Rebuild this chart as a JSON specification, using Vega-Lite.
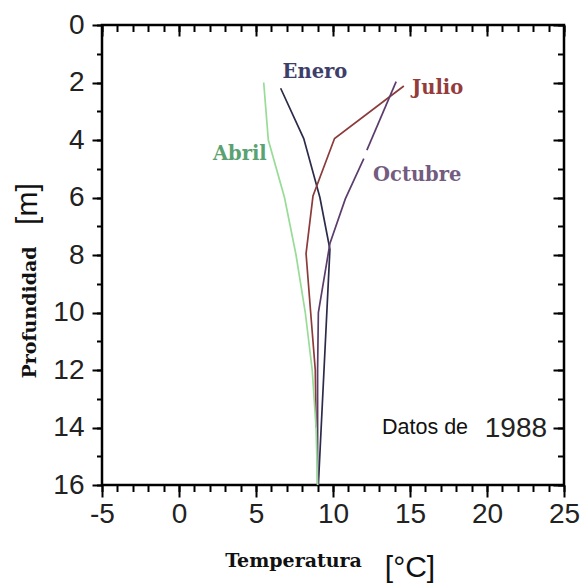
{
  "$schema": "https://vega.github.io/schema/vega-lite/v6.json",
  "width": 462,
  "height": 460,
  "autosize": "none",
  "padding": {"left": 102, "top": 25, "right": 18, "bottom": 99},
  "background": "white",
  "config": {
    "view": {"stroke": "#000", "strokeWidth": 2.5},
    "axis": {"grid": false, "domain": false, "tickColor": "#000", "tickWidth": 2, "labelFlush": false, "labelOverlap": false}
  },
  "resolve": {"axis": {"x": "independent", "y": "independent"}, "scale": {"color": "independent"}},
  "layer": [
    {
      "data": {"values": [
        {"month": "Enero", "seg": 1, "temp": 6.6, "depth": 2.2},
        {"month": "Enero", "seg": 1, "temp": 8.1, "depth": 3.95},
        {"month": "Enero", "seg": 1, "temp": 9.15, "depth": 6},
        {"month": "Enero", "seg": 1, "temp": 9.8, "depth": 7.8},
        {"month": "Enero", "seg": 1, "temp": 9.05, "depth": 16},
        {"month": "Julio", "seg": 1, "temp": 14.6, "depth": 2.12},
        {"month": "Julio", "seg": 1, "temp": 10.1, "depth": 3.95},
        {"month": "Julio", "seg": 1, "temp": 8.7, "depth": 5.95},
        {"month": "Julio", "seg": 1, "temp": 8.25, "depth": 7.95},
        {"month": "Julio", "seg": 1, "temp": 8.55, "depth": 10},
        {"month": "Julio", "seg": 1, "temp": 8.85, "depth": 12},
        {"month": "Julio", "seg": 1, "temp": 8.9, "depth": 14},
        {"month": "Octubre", "seg": 1, "temp": 14.1, "depth": 1.97},
        {"month": "Octubre", "seg": 1, "temp": 12.2, "depth": 4.35},
        {"month": "Octubre", "seg": 2, "temp": 12.0, "depth": 4.65},
        {"month": "Octubre", "seg": 2, "temp": 10.8, "depth": 6.05},
        {"month": "Octubre", "seg": 2, "temp": 9.8, "depth": 7.6},
        {"month": "Octubre", "seg": 2, "temp": 9.05, "depth": 10},
        {"month": "Octubre", "seg": 2, "temp": 9.0, "depth": 12},
        {"month": "Octubre", "seg": 2, "temp": 9.0, "depth": 16},
        {"month": "Abril", "seg": 1, "temp": 5.5, "depth": 2},
        {"month": "Abril", "seg": 1, "temp": 5.8, "depth": 4},
        {"month": "Abril", "seg": 1, "temp": 6.85, "depth": 6},
        {"month": "Abril", "seg": 1, "temp": 7.6, "depth": 8},
        {"month": "Abril", "seg": 1, "temp": 8.2, "depth": 10},
        {"month": "Abril", "seg": 1, "temp": 8.65, "depth": 12},
        {"month": "Abril", "seg": 1, "temp": 8.9, "depth": 14},
        {"month": "Abril", "seg": 1, "temp": 9.0, "depth": 16}
      ]},
      "mark": {"type": "line", "strokeWidth": 1.7, "clip": true},
      "encoding": {
        "x": {"field": "temp", "type": "quantitative",
          "scale": {"domain": [-5, 25], "nice": false, "zero": false},
          "axis": {"orient": "bottom", "values": [-5, 0, 5, 10, 15, 20, 25], "tickSize": 12,
            "labelExpr": "'' + datum.value",
            "labelFontSize": 28, "labelFont": "Liberation Sans", "labelColor": "#222", "labelPadding": 3,
            "title": "Temperatura", "titleFont": "DejaVu Serif", "titleFontWeight": "bold", "titleFontSize": 19,
            "titleColor": "#111", "titleX": 191, "titleY": 81, "titleBaseline": "alphabetic", "titleAlign": "center", "titleAnchor": null}},
        "y": {"field": "depth", "type": "quantitative",
          "scale": {"domain": [0, 16], "nice": false, "zero": false, "reverse": true},
          "axis": {"orient": "left", "values": [0, 2, 4, 6, 8, 10, 12, 14, 16], "tickSize": 10,
            "labelFontSize": 28, "labelFont": "Liberation Sans", "labelColor": "#222", "labelPadding": 8,
            "title": "Profundidad", "titleFont": "DejaVu Serif", "titleFontWeight": "bold", "titleFontSize": 19,
            "titleColor": "#111", "titleX": -67, "titleY": 287, "titleAngle": 270, "titleBaseline": "alphabetic", "titleAlign": "center", "titleAnchor": null}},
        "color": {"field": "month", "type": "nominal", "legend": null,
          "scale": {"domain": ["Enero", "Julio", "Octubre", "Abril"], "range": ["#2b2b4a", "#8c3b3b", "#5b3d6b", "#98dc98"]}},
        "detail": {"field": "seg", "type": "nominal"},
        "order": {"field": "depth", "type": "quantitative"}
      }
    },
    {
      "data": {"values": [
        {"month": "Julio", "temp": 15.13, "depth": 2.19},
        {"month": "Octubre", "temp": 12.6, "depth": 5.22},
        {"month": "Abril", "temp": 2.2, "depth": 4.49}
      ]},
      "mark": {"type": "text", "font": "DejaVu Serif", "fontWeight": "bold", "fontSize": 19.5, "align": "left", "baseline": "middle"},
      "encoding": {
        "x": {"field": "temp", "type": "quantitative",
          "axis": {"orient": "bottom", "values": [-5,-4,-3,-2,-1,0,1,2,3,4,5,6,7,8,9,10,11,12,13,14,15,16,17,18,19,20,21,22,23,24,25],
            "tickSize": 6.5, "labels": false, "title": null}},
        "y": {"field": "depth", "type": "quantitative",
          "axis": {"orient": "left", "values": [0,1,2,3,4,5,6,7,8,9,10,11,12,13,14,15,16], "tickSize": 5.5, "labels": false, "title": null}},
        "text": {"field": "month"},
        "color": {"field": "month", "type": "nominal", "legend": null,
          "scale": {"domain": ["Enero", "Julio", "Octubre", "Abril"], "range": ["#3e3e6a", "#943c3c", "#725c80", "#5ba272"]}}
      }
    },
    {
      "data": {"values": [
        {"month": "Enero", "temp": 8.83, "depth": 1.63}
      ]},
      "mark": {"type": "text", "font": "DejaVu Serif", "fontWeight": "bold", "fontSize": 19.5, "align": "center", "baseline": "middle", "color": "#3e3e6a"},
      "encoding": {
        "x": {"field": "temp", "type": "quantitative",
          "axis": {"orient": "top", "values": [-5, 0, 5, 10, 15, 20, 25], "tickSize": -11, "labels": false, "title": null}},
        "y": {"field": "depth", "type": "quantitative",
          "axis": {"orient": "right", "values": [0, 2, 4, 6, 8, 10, 12, 14, 16], "tickSize": -11, "labels": false, "title": null}},
        "text": {"field": "month"}
      }
    },
    {
      "data": {"values": [{"label": "Datos de", "temp": 18.77, "depth": 14}]},
      "mark": {"type": "text", "font": "Liberation Sans", "fontSize": 21.5, "align": "right", "baseline": "middle", "color": "#111"},
      "encoding": {
        "x": {"field": "temp", "type": "quantitative",
          "axis": {"orient": "top", "values": [-5,-4,-3,-2,-1,0,1,2,3,4,5,6,7,8,9,10,11,12,13,14,15,16,17,18,19,20,21,22,23,24,25],
            "tickSize": -6.5, "labels": false, "title": null}},
        "y": {"field": "depth", "type": "quantitative",
          "axis": {"orient": "right", "values": [0,1,2,3,4,5,6,7,8,9,10,11,12,13,14,15,16], "tickSize": -6.5, "labels": false, "title": null}},
        "text": {"field": "label"}
      }
    },
    {
      "data": {"values": [{"label": "1988", "temp": 23.9, "depth": 14.05}]},
      "mark": {"type": "text", "font": "Liberation Sans", "fontSize": 28, "align": "right", "baseline": "middle", "color": "#222"},
      "encoding": {
        "x": {"field": "temp", "type": "quantitative", "axis": null},
        "y": {"field": "depth", "type": "quantitative", "axis": null},
        "text": {"field": "label"}
      }
    },
    {
      "data": {"values": [{"label": "[m]", "temp": -9.81, "depth": 6.23}]},
      "mark": {"type": "text", "font": "Liberation Sans", "fontSize": 30, "align": "center", "baseline": "middle", "angle": 270, "color": "#111"},
      "encoding": {
        "x": {"field": "temp", "type": "quantitative", "axis": null},
        "y": {"field": "depth", "type": "quantitative", "axis": null},
        "text": {"field": "label"}
      }
    },
    {
      "data": {"values": [{"label": "[°C]", "temp": 15.0, "depth": 18.89}]},
      "mark": {"type": "text", "font": "Liberation Sans", "fontSize": 30, "align": "center", "baseline": "middle", "color": "#111"},
      "encoding": {
        "x": {"field": "temp", "type": "quantitative", "axis": null},
        "y": {"field": "depth", "type": "quantitative", "axis": null},
        "text": {"field": "label"}
      }
    }
  ]
}
